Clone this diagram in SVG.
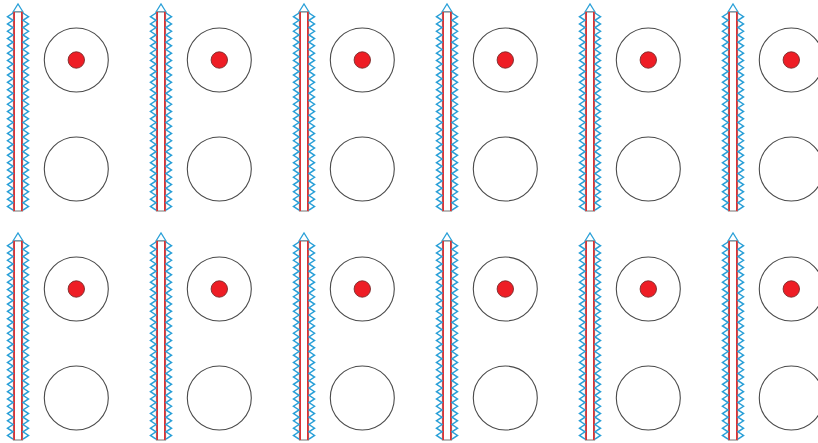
<svg xmlns="http://www.w3.org/2000/svg" xmlns:xlink="http://www.w3.org/1999/xlink" width="818" height="443" viewBox="0 0 818 443">
<style>
.zig{fill:none;stroke:#2aa0d8;stroke-width:1.5;stroke-linejoin:miter}
.tri{fill:#fff;stroke:#2aa0d8;stroke-width:1.3}
.bar{fill:#fff;stroke:#8a8a8a;stroke-width:1.2}
.red{stroke:#e0262b;stroke-width:1.5}
.ring{fill:none;stroke:#4a4a4a;stroke-width:1.1}
.dot{fill:#ee1d25;stroke:#7a2a2a;stroke-width:0.9}
</style>
<defs>
<g id="bar">
<polygon class="tri" points="13,12 18,4 23,12"/>
<rect class="bar" x="13.5" y="12" width="9" height="199"/>
<line class="red" x1="14.2" y1="12" x2="14.2" y2="211"/>
<line class="red" x1="21.8" y1="12" x2="21.8" y2="211"/>
<path class="zig" d="M13,13 l-5.5,3.65 l5.5,3.65 l-5.5,3.65 l5.5,3.65 l-5.5,3.65 l5.5,3.65 l-5.5,3.65 l5.5,3.65 l-5.5,3.65 l5.5,3.65 l-5.5,3.65 l5.5,3.65 l-5.5,3.65 l5.5,3.65 l-5.5,3.65 l5.5,3.65 l-5.5,3.65 l5.5,3.65 l-5.5,3.65 l5.5,3.65 l-5.5,3.65 l5.5,3.65 l-5.5,3.65 l5.5,3.65 l-5.5,3.65 l5.5,3.65 l-5.5,3.65 l5.5,3.65 l-5.5,3.65 l5.5,3.65 l-5.5,3.65 l5.5,3.65 l-5.5,3.65 l5.5,3.65 l-5.5,3.65 l5.5,3.65 l-5.5,3.65 l5.5,3.65 l-5.5,3.65 l5.5,3.65 l-5.5,3.65 l5.5,3.65 l-5.5,3.65 l5.5,3.65 l-5.5,3.65 l5.5,3.65 l-5.5,3.65 l5.5,3.65 l-5.5,3.65 l5.5,3.65 l-5.5,3.65 l5.5,3.65 l-5.5,3.65 l5.5,3.65"/>
<path class="zig" d="M23,13 l5.5,3.65 l-5.5,3.65 l5.5,3.65 l-5.5,3.65 l5.5,3.65 l-5.5,3.65 l5.5,3.65 l-5.5,3.65 l5.5,3.65 l-5.5,3.65 l5.5,3.65 l-5.5,3.65 l5.5,3.65 l-5.5,3.65 l5.5,3.65 l-5.5,3.65 l5.5,3.65 l-5.5,3.65 l5.5,3.65 l-5.5,3.65 l5.5,3.65 l-5.5,3.65 l5.5,3.65 l-5.5,3.65 l5.5,3.65 l-5.5,3.65 l5.5,3.65 l-5.5,3.65 l5.5,3.65 l-5.5,3.65 l5.5,3.65 l-5.5,3.65 l5.5,3.65 l-5.5,3.65 l5.5,3.65 l-5.5,3.65 l5.5,3.65 l-5.5,3.65 l5.5,3.65 l-5.5,3.65 l5.5,3.65 l-5.5,3.65 l5.5,3.65 l-5.5,3.65 l5.5,3.65 l-5.5,3.65 l5.5,3.65 l-5.5,3.65 l5.5,3.65 l-5.5,3.65 l5.5,3.65 l-5.5,3.65 l5.5,3.65 l-5.5,3.65"/>
</g>
<g id="unit">
<use xlink:href="#bar" href="#bar"/>
<circle class="ring" cx="76.3" cy="60" r="32"/>
<circle class="dot" cx="76.3" cy="60" r="8.2"/>
<circle class="ring" cx="76.3" cy="169" r="32"/>
</g>
</defs>
<g id="connectors"/>
<g id="unit-r1c1" transform="translate(0,0)"><use href="#unit" xlink:href="#unit"/></g>
<g id="unit-r1c2" transform="translate(143,0)"><use href="#unit" xlink:href="#unit"/></g>
<g id="unit-r1c3" transform="translate(286,0)"><use href="#unit" xlink:href="#unit"/></g>
<g id="unit-r1c4" transform="translate(429,0)"><use href="#unit" xlink:href="#unit"/></g>
<g id="unit-r1c5" transform="translate(572,0)"><use href="#unit" xlink:href="#unit"/></g>
<g id="unit-r1c6" transform="translate(715,0)"><use href="#unit" xlink:href="#unit"/></g>
<g id="unit-r2c1" transform="translate(0,229)"><use href="#unit" xlink:href="#unit"/></g>
<g id="unit-r2c2" transform="translate(143,229)"><use href="#unit" xlink:href="#unit"/></g>
<g id="unit-r2c3" transform="translate(286,229)"><use href="#unit" xlink:href="#unit"/></g>
<g id="unit-r2c4" transform="translate(429,229)"><use href="#unit" xlink:href="#unit"/></g>
<g id="unit-r2c5" transform="translate(572,229)"><use href="#unit" xlink:href="#unit"/></g>
<g id="unit-r2c6" transform="translate(715,229)"><use href="#unit" xlink:href="#unit"/></g>
</svg>
